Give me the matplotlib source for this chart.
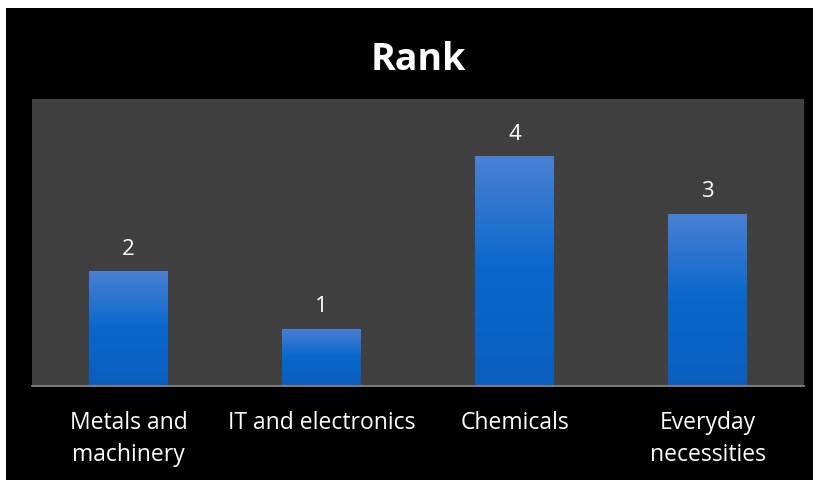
import numpy as np
import matplotlib.pyplot as plt
from matplotlib.colors import LinearSegmentedColormap
from matplotlib.patches import Rectangle

categories = ["Metals and\nmachinery", "IT and electronics", "Chemicals", "Everyday\nnecessities"]
ranks = [2, 1, 4, 3]
title = "Rank"

plt.rcParams['font.family'] = ['Open Sans', 'DejaVu Sans']

fig = plt.figure(figsize=(8.19, 4.83), dpi=100, facecolor="white")
W, H = 819, 483
# black chart area
fig.patches.append(Rectangle((6 / W, 1 - 480 / H), 807 / W, 472 / H,
                             transform=fig.transFigure, facecolor="black",
                             edgecolor="none", zorder=-10))

ax = fig.add_axes([32 / W, 1 - 386 / H, 772 / W, 287 / H])
ax.set_facecolor("#404040")

grad = LinearSegmentedColormap.from_list("g", ["#0b5fbe", "#0867cb", "#4a80d4"])
x = np.arange(len(categories))
width = 0.405
bars = ax.bar(x, ranks, width=width, color="none", edgecolor="none")
for b, v in zip(bars, ranks):
    x0 = b.get_x()
    im = ax.imshow(np.linspace(0, 1, 100).reshape(-1, 1), cmap=grad,
                   extent=(x0, x0 + width, 0, v), origin="lower",
                   aspect="auto", zorder=2)
    im.set_clip_path(b)
    ax.text(b.get_x() + width / 2, v + 0.2, str(v), ha="center", va="bottom",
            color="white", fontsize=16)
ax.set_xlim(-0.5, len(categories) - 0.5)
ax.set_ylim(0, 5)

for s in ["top", "left", "right"]:
    ax.spines[s].set_visible(False)
ax.spines["bottom"].set_color("#8c8c8c")
ax.spines["bottom"].set_linewidth(1.2)
ax.set_yticks([])
ax.set_xticks(x)
ax.set_xticklabels(categories, color="white", fontsize=16.5, va="top",
                   linespacing=1.45)
ax.tick_params(axis="x", length=0, pad=18)

fig.text(418 / W, 1 - 60 / H, title, ha="center", va="center",
         color="white", fontsize=27, fontweight="bold")

fig.savefig("out.png", dpi=100, facecolor="white")
